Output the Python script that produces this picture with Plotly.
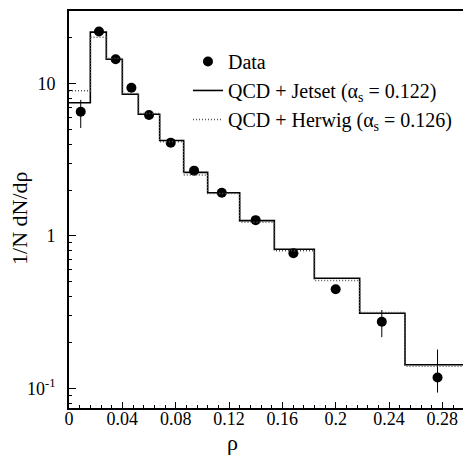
import plotly.graph_objects as go

# Bin edges in rho and the model predictions per bin
bin_edges = [0.0, 0.016, 0.028, 0.040, 0.052, 0.068, 0.086, 0.104,
             0.128, 0.154, 0.184, 0.218, 0.252, 0.300]
jetset = [7.48, 21.7, 14.4, 8.49, 6.28, 4.23, 2.61, 1.92, 1.26, 0.818, 0.528, 0.311, 0.143]
herwig = [8.97, 20.1, 14.6, 8.6, 6.35, 4.15, 2.51, 1.90, 1.23, 0.80, 0.51, 0.315, 0.140]

# Measured distribution
rho = [0.0088, 0.0225, 0.035, 0.0468, 0.060, 0.0763, 0.0938, 0.1146,
       0.140, 0.1683, 0.200, 0.2346, 0.2764]
data = [6.53, 21.9, 14.4, 9.38, 6.21, 4.09, 2.68, 1.92, 1.27, 0.771, 0.447, 0.274, 0.118]
err_up = [1.27, 0.4, 0.3, 0.2, 0.12, 0.08, 0.05, 0.04, 0.03, 0.02, 0.015, 0.053, 0.062]
err_dn = [1.43, 0.4, 0.3, 0.2, 0.12, 0.08, 0.05, 0.04, 0.03, 0.02, 0.015, 0.057, 0.024]

x_ticks = [0, 0.04, 0.08, 0.12, 0.16, 0.2, 0.24, 0.28]
x_ticktext = ["0", "0.04", "0.08", "0.12", "0.16", "0.2", "0.24", "0.28"]
y_ticks = [0.1, 1, 10]
y_ticktext = ["10<sup>-1</sup>", "1", "10"]
y_minor = [0.08, 0.09, 0.2, 0.3, 0.4, 0.5, 0.6, 0.7, 0.8, 0.9,
           2, 3, 4, 5, 6, 7, 8, 9, 20]

FONT = "Liberation Serif"


def steps(values):
    # repeat the last value so the final bin is drawn to its upper edge
    return values + [values[-1]]


fig = go.Figure()

fig.add_trace(go.Scatter(
    x=rho, y=data, mode="markers", name="Data",
    marker=dict(color="black", size=10, symbol="circle"),
    error_y=dict(type="data", symmetric=False, array=err_up, arrayminus=err_dn,
                 color="black", thickness=1, width=0),
    legendgroup="a",
))
fig.add_trace(go.Scatter(
    x=bin_edges, y=steps(jetset), mode="lines", line_shape="hv",
    name="QCD + Jetset (α<sub>s</sub> = 0.122)",
    line=dict(color="black", width=1.6),
    legendgroup="b",
))
fig.add_trace(go.Scatter(
    x=bin_edges, y=steps(herwig), mode="lines", line_shape="hv",
    name="QCD + Herwig (α<sub>s</sub> = 0.126)",
    line=dict(color="#555555", width=1.5, dash="1px,2px"),
    legendgroup="c",
))

fig.update_layout(
    width=463, height=455,
    margin=dict(l=69, r=0, t=11, b=47),
    paper_bgcolor="white", plot_bgcolor="white",
    font=dict(family=FONT, size=18, color="black"),
    showlegend=True,
    legend=dict(
        x=0.302, y=0.922, xanchor="left", yanchor="top",
        bgcolor="rgba(0,0,0,0)", borderwidth=0,
        font=dict(family=FONT, size=20, color="black"),
        itemwidth=30, tracegroupgap=0, traceorder="grouped",
    ),
    annotations=[
        dict(text="ρ", xref="paper", yref="paper", x=0.416, y=-0.088,
             xanchor="center", yanchor="middle", showarrow=False,
             font=dict(family=FONT, size=22)),
        dict(text="1/N dN/dρ", xref="paper", yref="paper", x=-0.124, y=0.479,
             xanchor="center", yanchor="middle", showarrow=False, textangle=-90,
             font=dict(family=FONT, size=22)),
    ],
)

fig.update_xaxes(
    range=[0, 0.2955],
    tickvals=x_ticks, ticktext=x_ticktext,
    ticks="inside", ticklen=6, tickwidth=1, tickcolor="black",
    minor=dict(dtick=0.008, tick0=0, ticks="inside", ticklen=3, tickcolor="black"),
    showline=True, linecolor="black", linewidth=1.6, mirror=True,
    showgrid=False, zeroline=False,
    tickfont=dict(family=FONT, size=18),
    ticklabelstandoff=-6,
)
fig.update_yaxes(
    type="log", range=[-1.128, 1.475],
    tickvals=y_ticks, ticktext=y_ticktext,
    ticks="inside", ticklen=7, tickwidth=1, tickcolor="black",
    minor=dict(tickvals=y_minor, ticks="inside", ticklen=3, tickcolor="black",
               showgrid=False),
    showline=True, linecolor="black", linewidth=1.6, mirror=False,
    showgrid=False, zeroline=False,
    tickfont=dict(family=FONT, size=18),
    ticklabelstandoff=8,
)

fig.write_html("out.html")
